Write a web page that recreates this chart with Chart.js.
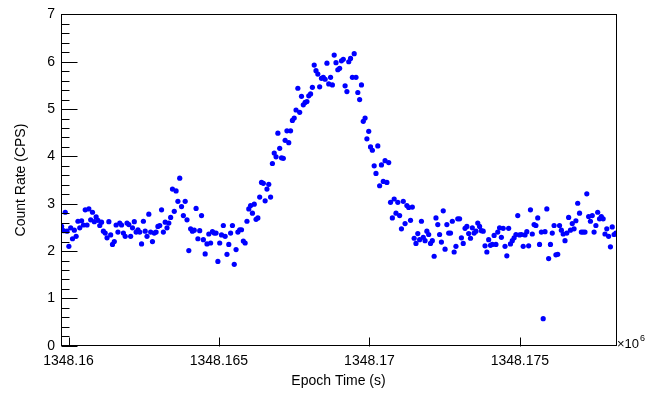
<!DOCTYPE html>
<html>
<head>
<meta charset="utf-8">
<title>Count Rate</title>
<script src="https://cdn.jsdelivr.net/npm/chart.js@4.4.1/dist/chart.umd.min.js"></script>
<style>
  html, body { margin: 0; padding: 0; background: #fff; }
  #wrap { width: 670px; height: 394px; }
</style>
</head>
<body>
<div id="wrap"><canvas id="lightCurve"></canvas></div>
<script>
/*------------------------------------------
Datos: curva de luz, bins de ~60 s (tiempo en segundos)
-------------------------------------------*/
const binStart = 1348159770;
const binWidth = 60.4;

const countRate = [
  2.52, 2.43, 2.82, 2.42, 2.10, 2.49, 2.26, 2.44, 2.31, 2.63,
  2.49, 2.64, 2.55, 2.87, 2.55, 2.89, 2.66, 2.82, 2.62, 2.72,
  2.65, 2.54, 2.61, 2.42, 2.38, 2.28, 2.62, 2.34, 2.14, 2.20,
  2.55, 2.40, 2.59, 2.55, 2.38, 2.31, 2.59, 2.56, 2.31, 2.49,
  2.62, 2.40, 2.45, 2.40, 2.15, 2.63, 2.42, 2.31, 2.78, 2.40,
  2.20, 2.38, 2.40, 2.52,
  2.54, 2.87, 2.40, 2.61, 2.49, 2.59, 2.71, 3.31, 2.84, 3.27,
  3.05, 3.54, 2.94, 2.75, 3.05, 2.66, 2.01, 2.47, 2.42, 2.44,
  2.90, 2.26, 2.43, 2.75, 2.24, 1.94, 2.15, 2.36, 2.17, 2.41,
  2.38, 2.38, 1.78, 2.17, 2.34, 2.54, 2.31, 1.93, 2.14, 2.38,
  2.54, 1.72, 2.03, 2.40, 2.45, 2.45, 2.21, 2.17, 2.63, 2.89,
  2.96, 2.80,
  2.99, 2.67, 2.70, 3.14, 3.45, 3.43, 3.06, 3.31, 3.41, 3.14,
  3.85, 4.07, 3.99, 4.49, 4.17, 3.97, 3.96, 4.34, 4.54, 4.29,
  4.54, 4.76, 4.81, 4.98, 5.44, 4.93, 5.27, 5.09, 5.14, 5.16,
  5.28, 5.32, 5.46, 5.93, 5.81, 5.74, 5.47, 5.65, 5.67, 5.63,
  5.97, 5.53, 5.67, 5.51, 6.14, 5.98, 5.83, 5.86, 6.02, 6.05,
  5.49, 5.37, 6.00,
  6.07, 5.67, 6.17, 5.67, 5.35, 5.20, 5.51, 4.74, 4.81, 4.37,
  4.53, 4.20, 4.13, 3.80, 3.64, 4.22, 3.38, 3.82, 3.47, 3.91,
  3.45, 3.87, 3.03, 2.70, 3.10, 2.80, 3.03, 2.75, 2.47, 3.05,
  2.58, 2.96, 2.92, 2.65, 2.93, 2.27, 2.16, 2.37, 2.24, 2.63,
  2.29, 2.22, 2.42, 2.35, 2.16, 2.22, 1.89, 2.70, 2.56,
  2.35, 2.19, 2.85, 2.04, 2.56, 2.38, 2.38, 2.63, 1.98, 2.10,
  2.68, 2.68, 2.28, 2.16, 2.48, 2.52, 2.37, 2.27, 2.49, 2.38,
  2.42, 2.59, 2.52, 2.43, 2.42, 2.11, 1.98, 2.24, 2.12, 2.14,
  2.33, 2.14, 2.40, 2.49, 2.29, 2.48, 2.10, 1.90, 2.48, 2.15,
  2.22, 2.28, 2.35, 2.75, 2.34, 2.35, 2.10, 2.34, 2.41, 2.11,
  2.87, 2.36, 2.56, 2.54, 2.70,
  2.14, 2.40, 0.57, 2.41, 2.89, 1.84, 2.14, 2.38, 2.54, 1.92,
  1.93, 2.54, 2.44, 2.36, 2.22, 2.38, 2.71, 2.44, 2.58, 2.47,
  2.64, 3.01, 2.80, 2.40, 2.40, 2.40, 3.21, 2.73, 2.63, 2.75,
  2.40, 2.54, 2.82, 2.68, 2.73, 2.68, 2.36, 2.47, 2.31, 2.09,
  2.51, 2.35, 2.38,
];

// ejes
const xRange = [1348159750, 1348178196];
const xTickValues = [1348160000, 1348165000, 1348170000, 1348175000];
const xTickLabels = ["1348.16", "1348.165", "1348.17", "1348.175"];
const yTickValues = [0, 1, 2, 3, 4, 5, 6, 7];

const points = countRate.map((rate, i) => ({ x: binStart + i * binWidth, y: rate }));

/*------------------------------------------
Marco y ticks hacia adentro (estilo ROOT)
-------------------------------------------*/
const rootFrame = {
  id: "rootFrame",
  afterDatasetsDraw(chart) {
    const { ctx, chartArea: a, scales } = chart;
    const x = scales.x;
    const y = scales.y;
    const left = Math.round(a.left) + 0.5;
    const bottom = Math.round(a.bottom) + 0.5;
    ctx.save();
    ctx.strokeStyle = "#000";
    ctx.lineWidth = 1;
    ctx.beginPath();
    for (let i = 0; i < yTickValues.length; i++) {
      const py = Math.round(y.getPixelForValue(yTickValues[i])) + 0.5;
      ctx.moveTo(left, py);
      ctx.lineTo(left + 16, py);
      if (i < yTickValues.length - 1) {
        const step = (yTickValues[i + 1] - yTickValues[i]) / 5;
        for (let k = 1; k < 5; k++) {
          const my = Math.round(y.getPixelForValue(yTickValues[i] + k * step)) + 0.5;
          ctx.moveTo(left, my);
          ctx.lineTo(left + 8, my);
        }
      }
    }
    xTickValues.forEach((v) => {
      const px = Math.round(x.getPixelForValue(v)) + 0.5;
      ctx.moveTo(px, bottom);
      ctx.lineTo(px, bottom - 9);
    });
    ctx.stroke();
    ctx.strokeRect(left, Math.round(a.top) + 0.5, Math.round(a.width), Math.round(a.height));

    // exponente del eje x
    ctx.fillStyle = "#000";
    ctx.textBaseline = "alphabetic";
    ctx.font = "13px 'Liberation Sans'";
    ctx.fillText("\u00d710", a.right + 1, bottom + 1);
    const w = ctx.measureText("\u00d710").width;
    ctx.font = "9px 'Liberation Sans'";
    ctx.fillText("6", a.right + 2 + w, bottom - 6);
    ctx.restore();
  },
};

const font = { family: "'Liberation Sans', Arial, sans-serif", size: 14 };
const ctx = document.getElementById("lightCurve").getContext("2d");

const lightCurve = new Chart(ctx, {
  type: "scatter",
  data: {
    datasets: [
      {
        label: "Count Rate",
        data: points,
        backgroundColor: "#0000ff",
        borderWidth: 0,
        pointRadius: 2.6,
        pointHoverRadius: 2.6,
      },
    ],
  },
  options: {
    responsive: true,
    maintainAspectRatio: false,
    animation: false,
    layout: { padding: { top: 10.7, right: 54, bottom: 0, left: 0 } },
    plugins: {
      legend: { display: false },
      tooltip: { enabled: false },
    },
    scales: {
      x: {
        type: "linear",
        min: xRange[0],
        max: xRange[1],
        afterBuildTicks: (scale) => {
          scale.ticks = xTickValues.map((v) => ({ value: v }));
        },
        afterFit: (scale) => {
          scale.height = 48.3;
        },
        grid: { display: false, drawTicks: false },
        border: { display: false },
        ticks: {
          padding: 7,
          maxRotation: 0,
          autoSkip: false,
          color: "#000",
          font: font,
          callback: (v) => xTickLabels[xTickValues.indexOf(v)],
        },
        title: {
          display: true,
          text: "Epoch Time (s)",
          color: "#000",
          font: font,
          padding: { top: 4, bottom: 4 },
        },
      },
      y: {
        min: 0,
        max: 7,
        afterBuildTicks: (scale) => {
          scale.ticks = yTickValues.map((v) => ({ value: v }));
        },
        afterFit: (scale) => {
          scale.width = 61;
        },
        grid: { display: false, drawTicks: false },
        border: { display: false },
        ticks: {
          padding: 6,
          color: "#000",
          font: font,
          callback: (v) => String(v),
        },
        title: {
          display: true,
          text: "Count Rate (CPS)",
          color: "#000",
          font: font,
          padding: { top: 13, bottom: 4 },
        },
      },
    },
  },
  plugins: [rootFrame],
});
</script>
</body>
</html>
